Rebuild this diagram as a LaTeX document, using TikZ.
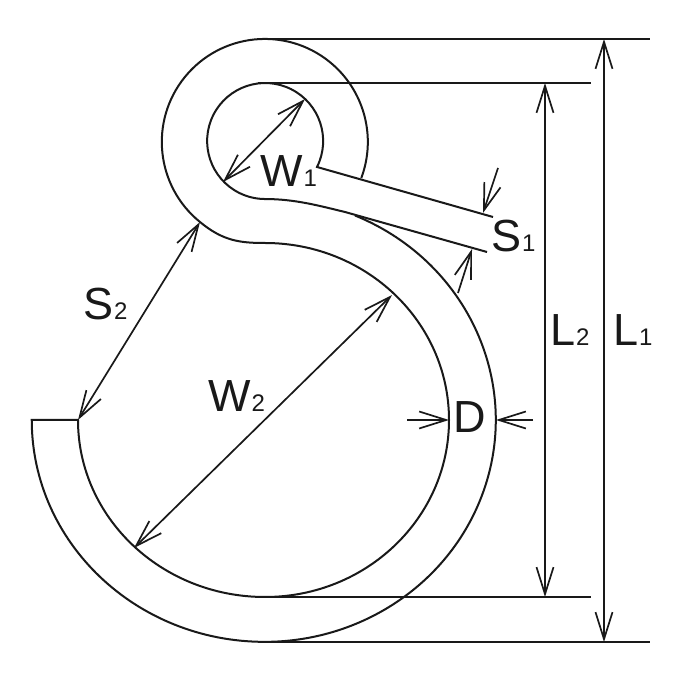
\documentclass[tikz,border=0pt]{standalone}
\usepackage{fontspec}
\setmainfont{Liberation Sans}
\usetikzlibrary{arrows.meta}
\newcommand{\lab}[2]{\fontsize{45}{45}\selectfont #1\hspace{1pt}\fontsize{24}{24}\selectfont #2}
\tikzstyle{hook} = [line width=2pt, draw=black!90]
\tikzstyle{extline} = [line width=2pt, draw=black!90]
\tikzstyle{arrow} = [line width=1.7pt, draw=black!90, arrows={-Straight Barb[length=27pt,width=17pt]}]
\tikzstyle{dimarrow} = [line width=1.7pt, draw=black!90, arrows={Straight Barb[length=27pt,width=17pt]-Straight Barb[length=27pt,width=17pt]}]
\tikzstyle{dimlabel} = [anchor=base west, inner sep=0pt, text=black!90]

\begin{document}
\begin{tikzpicture}[x=1pt, y=1pt]
    \useasboundingbox (0,0) rectangle (680,680);

    % hook outline
    \draw[hook] (493,463) -- (317,513) arc[start angle=-26.6, end angle=270, radius=58]
        .. controls (295,481) and (320,474) .. (345,468) -- (487,428);
    \draw[hook] (355,464.5) arc[start angle=67, end angle=-90, x radius=231, y radius=222]
        arc[start angle=270, end angle=180, x radius=233, y radius=222]
        -- (78,260)
        arc[start angle=180, end angle=270, x radius=187, y radius=177]
        arc[start angle=-90, end angle=90, x radius=184, y radius=177]
        .. controls (240,437) and (223,439) .. (200,458)
        arc[start angle=231, end angle=-20.5, radius=103];

    % end points of the dimensions
    \coordinate (eyetop) at (258,641);
    \coordinate (eyein) at (258,597);
    \coordinate (hookin) at (265,83);
    \coordinate (hookbot) at (265,38);
    \coordinate (extL1) at (650,641);
    \coordinate (extL2) at (591,597);
    \coordinate (extL2b) at (591,83);
    \coordinate (extL1b) at (650,38);
    \coordinate (L1top) at (604,641);
    \coordinate (L1bot) at (604,38);
    \coordinate (L2top) at (545,597);
    \coordinate (L2bot) at (545,83);
    \coordinate (W1a) at (305,581);
    \coordinate (W1b) at (223,498);
    \coordinate (W2a) at (392,385);
    \coordinate (W2b) at (134,132);
    \coordinate (S2a) at (200,458);
    \coordinate (S2b) at (78,260);
    \coordinate (S1atail) at (498,512);
    \coordinate (S1atip) at (483,467);
    \coordinate (S1btail) at (458,387);
    \coordinate (S1btip) at (472,431);
    \coordinate (Datail) at (407,260);
    \coordinate (Datip) at (449,260);
    \coordinate (Dbtail) at (533,260);
    \coordinate (Dbtip) at (496,260);

    % labels
    \node (labW1) [dimlabel] at (260,493) {\lab{W}{1}};
    \node (labS1) [dimlabel] at (491,428) {\lab{S}{1}};
    \node (labS2) [dimlabel] at (83,360) {\lab{S}{2}};
    \node (labW2) [dimlabel] at (208,268) {\lab{W}{2}};
    \node (labL2) [dimlabel] at (550,334) {\lab{L}{2}};
    \node (labL1) [dimlabel] at (613,334) {\lab{L}{1}};
    \node (labD) [dimlabel] at (453,247) {\fontsize{45}{45}\selectfont D};

    \draw[extline] (eyetop) -- (extL1);
    \draw[extline] (eyein) -- (extL2);
    \draw[extline] (hookin) -- (extL2b);
    \draw[extline] (hookbot) -- (extL1b);

    \draw[dimarrow] (L1top) -- (L1bot);
    \draw[dimarrow] (L2top) -- (L2bot);
    \draw[dimarrow] (W1a) -- (W1b);
    \draw[dimarrow] (W2a) -- (W2b);
    \draw[dimarrow] (S2a) -- (S2b);
    \draw[arrow] (S1atail) -- (S1atip);
    \draw[arrow] (S1btail) -- (S1btip);
    \draw[arrow] (Datail) -- (Datip);
    \draw[arrow] (Dbtail) -- (Dbtip);
\end{tikzpicture}
\end{document}
